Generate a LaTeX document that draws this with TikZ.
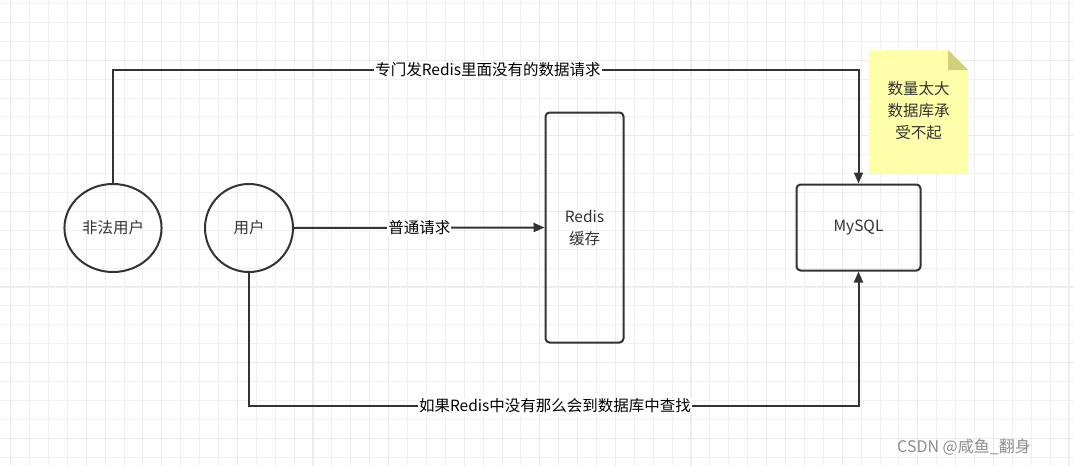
\documentclass[tikz,border=0pt]{standalone}
\usepackage{fontspec}
\setmainfont{Noto Sans CJK SC}
\usetikzlibrary{arrows.meta,positioning,calc,shapes.geometric}
\definecolor{ink}{HTML}{333333}
\definecolor{notefill}{HTML}{FFFFAA}
\definecolor{notefold}{HTML}{D0D07A}
\begin{document}
\begin{tikzpicture}[x=1pt,y=-1pt,>={Triangle[length=11pt,width=9pt]},
  user/.style={ellipse,draw=ink,line width=2pt,text=ink,font=\fontsize{15.5}{19}\selectfont},
  box/.style={draw=ink,line width=2pt,rounded corners=4pt,text=ink,font=\fontsize{15.5}{22}\selectfont,align=center},
  link/.style={draw=ink,line width=2pt,->},
  tag/.style={fill=white,inner sep=1pt,text=black,font=\fontsize{15.5}{19}\selectfont}]
  \useasboundingbox (0,0) rectangle (1074,466);
  % background grid
  \foreach \k in {-1,...,57} \draw[black!6,line width=0.6pt] ({10.4+18.9*\k},0) -- ++(0,466);
  \foreach \k in {-4,...,25} \draw[black!6,line width=0.6pt] (0,{60+18.9*\k}) -- ++(1074,0);
  \foreach \k in {0,...,14} \draw[black!8,line width=0.7pt] ({10.4+75.6*\k},0) -- ++(0,466);
  \foreach \k in {-1,...,6} \draw[black!8,line width=0.7pt] (0,{60+75.6*\k}) -- ++(1074,0);

  \node (bad) at (113,228) [user,minimum width=96pt,minimum height=88pt] {非法用户};
  \node (usr) at (249,228) [user,minimum width=88pt,minimum height=88pt] {用户};
  \node (redis) at (584.5,227.5) [box,minimum width=78pt,minimum height=230pt] {Redis\\缓存};
  \node (mysql) at (858.5,227.5) [box,minimum width=124pt,minimum height=86pt] {MySQL};

  % note
  \fill[notefill] (869,50) -- (948,50) -- (968,70) -- (968,173) -- (869,173) -- cycle;
  \fill[notefold] (948,50) -- (968,70) -- (948,70) -- cycle;
  \node (note) at (918.5,111) [align=center,text=ink,font=\fontsize{15.5}{22}\selectfont] {数量太大\\数据库承\\受不起};

  \coordinate (top) at (488,70);
  \coordinate (bot) at (555,406);
  \draw[link] (bad.north) |- (top) -| (mysql.north);
  \draw[link] (usr.east) -- (redis.west) node[tag,pos=0.5] {普通请求};
  \draw[link] (usr.south) |- (bot) -| (mysql.south);
  \node (toptag) at (top) [tag] {专门发Redis里面没有的数据请求};
  \node (bottag) at (bot) [tag] {如果Redis中没有那么会到数据库中查找};

  \node (mark) at (964,447) [text=black!45,font=\fontsize{16}{18}\selectfont] {CSDN @咸鱼\_翻身};
\end{tikzpicture}
\end{document}
